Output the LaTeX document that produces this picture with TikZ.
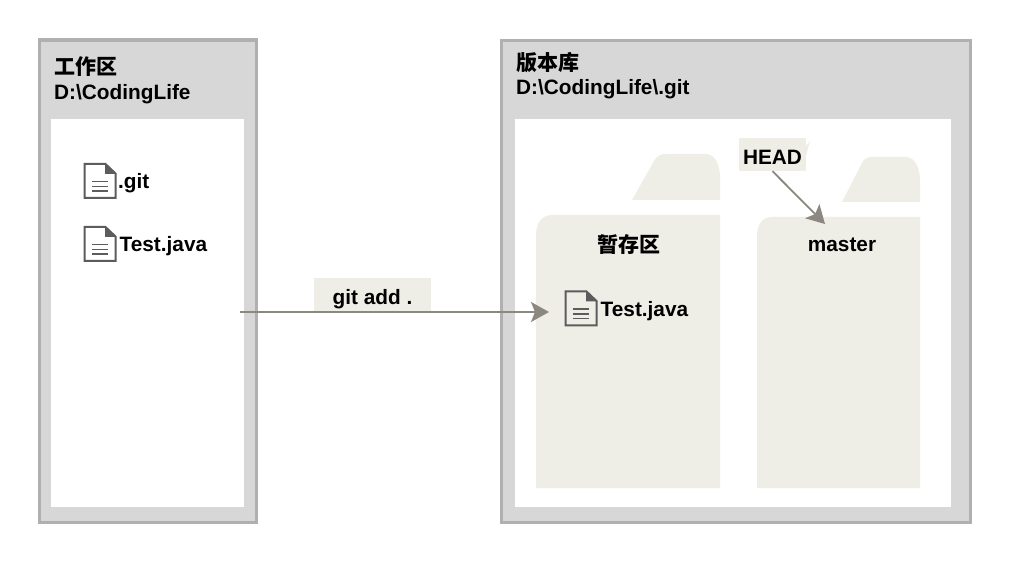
\documentclass[tikz,border=0pt]{standalone}
\usepackage{fontspec}
\setmainfont{Liberation Sans}
\newfontfamily\cjk{Noto Sans CJK SC}
\definecolor{panelfill}{HTML}{D7D7D7}
\definecolor{panelline}{HTML}{B0B0B0}
\definecolor{folderfill}{HTML}{EFEEE6}
\definecolor{arrowcol}{HTML}{8C8781}
\definecolor{iconcol}{HTML}{5C5C5C}
\usetikzlibrary{arrows.meta}
\tikzset{
  panel/.style={draw=panelline,fill=panelfill,line width=3.5pt},
  inner/.style={fill=white},
  folder/.style={fill=folderfill},
  lab/.style={font=\fontsize{20.8}{24}\selectfont\bfseries,inner sep=0pt,text=black},
  cjklab/.style={font=\cjk\fontsize{21}{24}\selectfont\bfseries,inner sep=0pt,text=black},
  flow/.style={draw=arrowcol,line width=1.8pt,-{Stealth[length=18pt,width=20pt,inset=4pt]}},
  docicon/.pic={
    \draw[draw=iconcol,line width=2pt]
      (-15.5,-17) -- (5.5,-17) -- (15.5,-7.5) -- (15.5,17) -- (-15.5,17) -- cycle;
    \fill[iconcol] (5,-18) -- (16.5,-7) -- (5,-7) -- cycle;
    \draw[iconcol,line width=1.8pt] (-8,0.5) -- (8,0.5) (-8,5.5) -- (8,5.5) (-8,10) -- (8,10);
  }
}
\begin{document}
\begin{tikzpicture}[x=1pt,y=-1pt]
\useasboundingbox (0,0) rectangle (1034,561);
% work panel
\path[panel] (39.5,40) rectangle (256.5,522.5);
\path[inner] (51,119) rectangle (244,507);
\node[cjklab,anchor=west] (worktitle) at (54,67) {工作区};
\node[lab,anchor=west] (workpath) at (54,94.5) {D:\textbackslash CodingLife};
\pic at (100,181) {docicon};
\node[lab,anchor=west] (gitdir) at (118,183) {.git};
\pic at (100,244) {docicon};
\node[lab,anchor=west] (worktest) at (119.5,246) {Test.java};
% repo panel
\path[panel] (501.5,40.5) rectangle (970.5,522.5);
\path[inner] (515,119) rectangle (951,507);
\node[cjklab,anchor=west] (repotitle) at (516,62.5) {版本库};
\node[lab,anchor=west] (repopath) at (516,89.5) {D:\textbackslash CodingLife\textbackslash .git};
% stage folder
\path[folder] (632,200) -- (654,161) .. controls (657,156) and (660,154) .. (665,154)
  -- (706,154) .. controls (715,154) and (720,165) .. (720,178) -- (720,200) -- cycle;
\path[folder] (536,488) -- (536,236) .. controls (536,224) and (541,215) .. (552,215)
  -- (720,215) -- (720,488) -- cycle;
\node[cjklab] (stage) at (628.5,245) {暂存区};
\pic at (581,308.5) {docicon};
\node[lab,anchor=west] (stagetest) at (600.5,311) {Test.java};
% master folder
\path[folder] (842,202) -- (862,163) .. controls (864,159) and (867,157) .. (871,157)
  -- (906,157) .. controls (915,157) and (920,168) .. (920,181) -- (920,202) -- cycle;
\path[folder] (757,488) -- (757,236) .. controls (757,225) and (762,217) .. (772,217)
  -- (920,217) -- (920,488) -- cycle;
\node[lab] (master) at (842,245) {master};
% labels on backgrounds
\path[folder] (806,146) -- (810,141) -- (806,156) -- cycle;
\node[fill=folderfill,minimum width=117pt,text height=27pt,text depth=7pt,inner sep=0pt,lab] (gitadd) at (372.5,295) {git add .};
\node[fill=folderfill,minimum width=67pt,text height=27pt,text depth=6pt,inner sep=0pt,lab] (head) at (772.5,154.5) {HEAD};
% connectors
\coordinate (flowstart) at (240,312);
\coordinate (flowend) at (549,312);
\coordinate (headtip) at (825,224);
\draw[flow] (flowstart) -- (flowend);
\draw[flow] (head.south) -- (headtip);
\end{tikzpicture}
\end{document}
